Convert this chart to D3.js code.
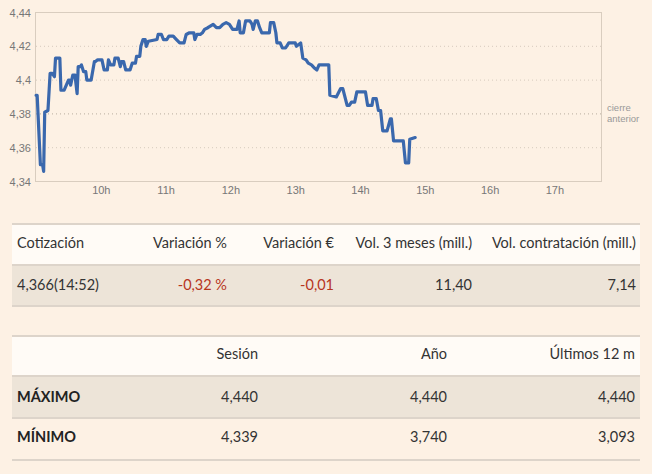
<!DOCTYPE html>
<html><head><meta charset="utf-8">
<script src="https://cdn.jsdelivr.net/npm/d3@7"></script>
<style>
html,body{margin:0;padding:0;background:#fdf1e4;}
svg{display:block;}
</style></head>
<body>
<svg id="c" width="652" height="474"></svg>
<script>
// ---- data ----
const times = ["9:01","9:02","9:05","9:07","9:08","9:09","9:12","9:14","9:16","9:18","9:19","9:23","9:24","9:27","9:29","9:31","9:32","9:33","9:35","9:37","9:39","9:40","9:42","9:43","9:45","9:47","9:48","9:52","9:55","9:56","9:58","10:02","10:04","10:07","10:08","10:10","10:13","10:14","10:17","10:19","10:20","10:22","10:24","10:28","10:30","10:33","10:34","10:37","10:38","10:40","10:42","10:43","10:45","10:53","10:54","10:57","10:59","11:02","11:04","11:08","11:11","11:14","11:18","11:20","11:23","11:27","11:28","11:30","11:33","11:35","11:37","11:40","11:45","11:48","11:51","11:54","11:57","12:00","12:03","12:07","12:09","12:10","12:13","12:15","12:19","12:21","12:22","12:24","12:26","12:28","12:30","12:37","12:38","12:41","12:43","12:44","12:47","12:49","12:52","12:55","13:01","13:02","13:06","13:08","13:11","13:13","13:16","13:19","13:21","13:23","13:26","13:29","13:32","13:33","13:39","13:43","13:45","13:49","13:51","13:53","13:56","13:58","14:06","14:08","14:12","14:13","14:16","14:18","14:20","14:22","14:26","14:29","14:30","14:32","14:41","14:43","14:46","14:47","14:52"];
const prices = [4.391,4.391,4.350,4.350,4.346,4.381,4.382,4.404,4.404,4.402,4.413,4.413,4.394,4.394,4.397,4.400,4.400,4.397,4.403,4.403,4.392,4.408,4.408,4.409,4.405,4.405,4.400,4.400,4.411,4.411,4.412,4.412,4.406,4.406,4.412,4.409,4.409,4.413,4.413,4.408,4.411,4.411,4.406,4.406,4.410,4.410,4.414,4.414,4.420,4.424,4.424,4.420,4.423,4.424,4.427,4.427,4.424,4.424,4.426,4.426,4.424,4.422,4.422,4.427,4.428,4.428,4.424,4.427,4.427,4.428,4.430,4.431,4.433,4.431,4.431,4.433,4.434,4.433,4.430,4.430,4.435,4.428,4.428,4.435,4.435,4.433,4.430,4.435,4.435,4.431,4.428,4.428,4.434,4.434,4.428,4.422,4.422,4.419,4.419,4.422,4.422,4.420,4.422,4.413,4.412,4.410,4.409,4.407,4.406,4.409,4.409,4.409,4.409,4.391,4.390,4.395,4.395,4.385,4.385,4.387,4.387,4.393,4.393,4.385,4.385,4.389,4.389,4.382,4.382,4.370,4.370,4.377,4.377,4.364,4.364,4.351,4.351,4.365,4.366];
const yTicks = [4.34,4.36,4.38,4.40,4.42,4.44];
const xTickHours = [10,11,12,13,14,15,16,17];
const prevClose = 4.38;
const refLabel = ["cierre","anterior"];

const quoteHeaders = ["Cotización","Variación %","Variación €","Vol. 3 meses (mill.)","Vol. contratación (mill.)"];
const quoteValues = ["4,366(14:52)","-0,32 %","-0,01","11,40","7,14"];
const rangeHeaders = ["","Sesión","Año","Últimos 12 m"];
const rangeRows = ["MÁXIMO","MÍNIMO"];
const rangeValues = [["4,440","4,440","4,440"],["4,339","3,740","3,093"]];

// ---- chart ----
const svg = d3.select("#c");
const parse = s => { const [h,m]=s.split(":").map(Number); return new Date(2024,0,1,h,m); };
const x = d3.scaleTime().domain([new Date(2024,0,1,9,0), new Date(2024,0,1,17,45)]).range([35,602]);
const y = d3.scaleLinear().domain([4.34,4.44]).range([181.5,12.5]);
const fmt = v => String(+v.toFixed(2)).replace(".",",");

const g = svg.append("g");
// grid
g.selectAll("line.grid").data(yTicks.filter(v=>v>4.34 && v<4.44)).join("line")
  .attr("x1",36).attr("x2",601).attr("y1",d=>y(d)).attr("y2",d=>y(d))
  .attr("stroke",d=>Math.abs(d-prevClose)<1e-9?"#b9ada0":"#d6cabd")
  .attr("stroke-width",1).attr("stroke-dasharray","1,3");
// frame
g.append("rect").attr("x",35.5).attr("y",12.5).attr("width",566).attr("height",169)
  .attr("fill","none").attr("stroke","#d9cdbf").attr("stroke-width",1);
// y axis labels
const ya = g.append("g").attr("transform","translate(31,0)")
  .call(d3.axisLeft(y).tickValues(yTicks).tickSize(0).tickPadding(0).tickFormat(fmt));
ya.select(".domain").remove();
ya.selectAll("text").attr("font-family","Liberation Sans, Arial, sans-serif").attr("font-size",11).attr("fill","#777");
// x axis labels
const xa = g.append("g").attr("transform","translate(0,186)")
  .call(d3.axisBottom(x).tickValues(xTickHours.map(h=>new Date(2024,0,1,h,0))).tickSize(0).tickPadding(0).tickFormat(d=>d.getHours()+"h"));
xa.select(".domain").remove();
xa.selectAll("text").attr("font-family","Liberation Sans, Arial, sans-serif").attr("font-size",11).attr("fill","#777").attr("dx",1);
// reference label
g.append("text").attr("x",607).attr("y",y(prevClose)-1).attr("font-family","Liberation Sans, Arial, sans-serif")
  .attr("font-size",9.5).attr("fill","#999")
  .selectAll("tspan").data(refLabel).join("tspan").attr("x",607).attr("dy",(d,i)=>i?11:-2).text(d=>d);
// line
const pts = times.map((t,i)=>({t:parse(t),v:prices[i]}));
g.append("path").datum(pts)
  .attr("d",d3.line().x(d=>x(d.t)).y(d=>y(d.v)))
  .attr("fill","none").attr("stroke","#3a68ad").attr("stroke-width",3.2).attr("stroke-linejoin","round").attr("stroke-linecap","round");

// ---- tables ----
const font = "Lato, 'Open Sans', sans-serif";
const tx0 = 12, tx1 = 640;
function band(y0,h,fill){ svg.append("rect").attr("x",tx0).attr("y",y0).attr("width",tx1-tx0).attr("height",h).attr("fill",fill); }
function hline(yy){ svg.append("rect").attr("x",tx0).attr("y",yy-1).attr("width",tx1-tx0).attr("height",2).attr("fill","#ddd4ca"); }

// table 1
band(224,41,"#fffbf6"); band(265,41,"#ede4d8");
hline(224); hline(265); hline(306);
const q1x = [17,227,334,472,636];
const q1anchor = ["start","end","end","end","end"];
svg.append("g").selectAll("text").data(quoteHeaders).join("text")
  .attr("x",(d,i)=>q1x[i]).attr("y",248).attr("text-anchor",(d,i)=>q1anchor[i])
  .attr("font-family",font).attr("font-size",14.5).attr("fill","#333").text(d=>d);
svg.append("g").selectAll("text").data(quoteValues).join("text")
  .attr("x",(d,i)=>q1x[i]).attr("y",290).attr("text-anchor",(d,i)=>q1anchor[i])
  .attr("font-family",font).attr("font-size",14.5)
  .attr("fill",(d,i)=>(i===1||i===2)?"#b7351d":"#333").text(d=>d);

// table 2
band(336,40,"#fffbf6"); band(376,42,"#ede4d8");
hline(336); hline(376); hline(418); hline(460);
const q2x = [17,258,447,635];
svg.append("g").selectAll("text").data(rangeHeaders).join("text")
  .attr("x",(d,i)=>q2x[i]).attr("y",359).attr("text-anchor",(d,i)=>i?"end":"start")
  .attr("font-family",font).attr("font-size",14.5).attr("fill","#333").text(d=>d);
rangeRows.forEach((r,ri)=>{
  const yy = [402,442][ri];
  svg.append("text").attr("x",17).attr("y",yy).attr("font-family",font).attr("font-size",14.5)
    .attr("font-weight","bold").attr("fill","#222").text(r);
  svg.append("g").selectAll("text").data(rangeValues[ri]).join("text")
    .attr("x",(d,i)=>q2x[i+1]).attr("y",yy).attr("text-anchor","end")
    .attr("font-family",font).attr("font-size",14.5).attr("fill","#333").text(d=>d);
});
</script>
</body></html>
